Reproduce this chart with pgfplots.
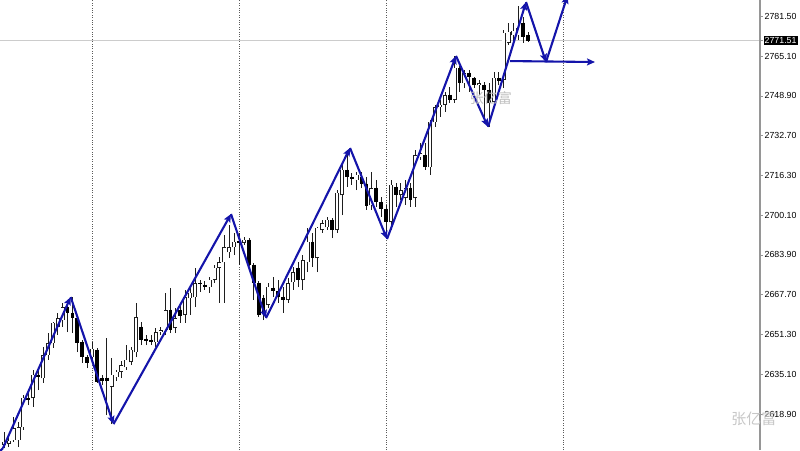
\documentclass[border=0pt]{standalone}
\usepackage{pgfplots}
\pgfplotsset{compat=1.18}
\usepackage{pgfplotstable}
\usepackage{fontspec}
\setmainfont{Liberation Sans}
\newfontfamily\cjk{Noto Sans CJK SC}
\usetikzlibrary{arrows.meta}
\definecolor{zz}{RGB}{20,20,170}
\definecolor{sepc}{RGB}{90,90,90}
\definecolor{spine}{RGB}{150,150,150}
\definecolor{cndl}{RGB}{30,30,30}

\pgfplotstableread{
i o h l c
0 2606.3 2611.6 2605.0 2607.5
1 2606.7 2609.5 2605.4 2607.9
2 2608.3 2617.7 2607.5 2613.2
3 2608.3 2615.7 2605.4 2613.6
4 2613.6 2626.7 2612.4 2625.5
5 2625.5 2628.7 2622.6 2624.6
6 2625.5 2636.9 2621.8 2634.9
7 2634.9 2636.9 2628.7 2634.0
8 2633.6 2646.3 2631.6 2643.0
9 2643.0 2652.0 2641.0 2647.9
10 2647.9 2656.5 2645.9 2656.1
11 2654.5 2660.2 2651.2 2658.1
12 2657.3 2664.3 2654.5 2662.6
13 2662.6 2664.7 2652.4 2660.2
14 2660.2 2666.7 2652.0 2658.1
15 2658.1 2658.5 2644.2 2647.9
16 2648.3 2649.2 2639.8 2642.2
17 2642.2 2643.0 2637.7 2639.8
18 2642.2 2648.3 2640.2 2645.5
19 2645.1 2645.9 2631.6 2632.0
20 2633.6 2634.9 2630.8 2632.4
21 2633.6 2650.0 2618.5 2632.4
22 2630.0 2641.8 2614.8 2634.9
23 2634.0 2636.9 2632.4 2636.1
24 2636.1 2640.6 2633.6 2638.9
25 2638.1 2647.1 2636.9 2641.0
26 2640.2 2646.3 2638.9 2645.1
27 2644.2 2664.3 2642.2 2658.5
28 2654.5 2656.5 2647.1 2649.2
29 2649.6 2651.2 2647.1 2648.7
30 2649.2 2651.2 2647.1 2648.3
31 2648.3 2654.1 2646.3 2652.4
32 2652.4 2654.5 2651.2 2653.2
33 2653.2 2668.4 2651.2 2661.4
34 2661.4 2670.4 2652.0 2653.2
35 2654.1 2662.2 2652.0 2658.1
36 2661.4 2663.5 2656.1 2659.0
37 2659.4 2669.6 2656.1 2666.7
38 2666.3 2670.4 2659.4 2668.4
39 2666.7 2678.6 2662.6 2672.4
40 2672.4 2673.7 2668.8 2672.0
41 2671.6 2673.3 2669.6 2670.8
42 2670.8 2674.9 2668.4 2673.7
43 2673.7 2679.8 2672.4 2678.6
44 2678.6 2683.1 2664.3 2681.0
45 2681.0 2692.0 2664.3 2687.1
46 2685.1 2696.1 2682.7 2687.1
47 2687.1 2692.9 2683.9 2689.2
48 2689.6 2692.9 2679.8 2688.8
49 2688.8 2691.2 2688.0 2690.0
50 2690.0 2690.8 2679.4 2679.8
51 2679.8 2680.6 2665.5 2672.4
52 2672.4 2673.3 2658.5 2659.4
53 2666.3 2667.5 2657.3 2659.8
54 2663.5 2672.4 2662.2 2670.8
55 2670.4 2674.9 2666.7 2669.2
56 2669.2 2673.7 2664.3 2666.7
57 2666.7 2670.8 2660.2 2665.5
58 2665.5 2674.5 2664.3 2672.4
59 2672.8 2679.0 2669.6 2676.9
60 2678.6 2681.0 2670.8 2673.7
61 2673.7 2683.9 2669.6 2681.8
62 2681.0 2694.9 2676.9 2689.2
63 2689.2 2692.9 2679.0 2682.7
64 2682.7 2695.3 2676.9 2694.9
65 2694.1 2698.2 2692.9 2696.9
66 2695.3 2699.4 2694.1 2698.2
67 2698.2 2699.0 2690.8 2694.1
68 2694.1 2710.4 2692.9 2709.2
69 2708.4 2721.5 2700.2 2718.6
70 2718.6 2726.8 2711.7 2715.7
71 2715.7 2717.4 2712.5 2714.9
72 2714.5 2717.8 2710.4 2716.6
73 2715.7 2717.8 2711.2 2712.9
74 2712.9 2715.7 2702.3 2703.9
75 2704.3 2717.8 2702.3 2711.2
76 2711.2 2714.5 2703.5 2705.5
77 2705.5 2707.6 2699.4 2702.7
78 2702.7 2704.3 2690.4 2697.4
79 2697.4 2714.5 2694.1 2712.5
80 2711.7 2713.3 2703.5 2708.4
81 2708.4 2713.3 2706.3 2710.4
82 2707.2 2714.5 2704.3 2711.2
83 2711.2 2713.3 2703.5 2706.3
84 2707.2 2726.8 2703.5 2724.7
85 2723.9 2729.6 2722.7 2725.5
86 2724.7 2729.6 2718.6 2719.8
87 2719.8 2739.0 2716.6 2738.2
88 2738.2 2745.2 2736.2 2744.3
89 2744.3 2747.2 2740.3 2745.2
90 2745.2 2750.5 2742.3 2749.2
91 2749.2 2752.5 2746.0 2747.2
92 2747.2 2765.2 2746.0 2760.3
93 2760.3 2761.1 2750.5 2754.1
94 2754.1 2759.4 2752.1 2758.2
95 2758.2 2759.4 2750.5 2756.6
96 2756.2 2756.6 2752.1 2753.3
97 2753.3 2755.4 2749.2 2754.1
98 2753.3 2754.5 2740.3 2751.3
99 2751.3 2754.1 2736.2 2746.0
100 2746.4 2758.6 2745.2 2756.2
101 2756.2 2758.6 2753.3 2755.0
102 2755.4 2775.8 2752.1 2774.6
103 2770.5 2778.6 2769.7 2775.0
104 2773.7 2778.6 2770.5 2775.4
105 2773.7 2785.6 2771.7 2776.6
106 2778.6 2781.1 2770.5 2772.9
107 2773.7 2775.0 2770.9 2771.51
}\candles

\begin{document}
\begin{tikzpicture}
\begin{axis}[
  width=760pt, height=450pt, scale only axis,
  xmin=0, xmax=760, ymin=2604.22, ymax=2788.04,
  axis line style={draw=none},
  xtick=\empty,
  extra x ticks={92,239,386,563},
  extra x tick labels={},
  extra x tick style={grid=major, major tick length=0pt,
     major grid style={sepc, line width=0.6pt, dash pattern=on 0.8pt off 1.6pt}},
  ytick={2618.9,2635.1,2651.3,2667.7,2683.9,2700.1,2716.3,2732.7,2748.9,2765.1,2781.5},
  yticklabels={2618.90,2635.10,2651.30,2667.70,2683.90,2700.10,2716.30,2732.70,2748.90,2765.10,2781.50},
  ytick pos=right, yticklabel pos=right,
  tick align=outside, major tick length=2.5pt,
  tick style={spine, line width=0.6pt},
  yticklabel style={font=\fontsize{8.8}{10}\selectfont, black, inner sep=1pt, xshift=1pt},
  extra y ticks={2771.51},
  extra y tick labels={2771.51},
  extra y tick style={grid=major, major grid style={black!20, line width=0.9pt},
     yticklabel style={fill=black, text=white, inner sep=1pt, xshift=0pt}},
]
% wicks
\addplot[draw=cndl, line width=0.6pt, quiver={u=0, v=\thisrow{h}-\thisrow{l}}]
  table[x expr=3.8+4.9*\thisrow{i}, y=l] \candles;
% bullish bodies outline
\addplot[draw=cndl, line width=4.0pt, quiver={u=0, v=\thisrow{c}-\thisrow{o}+0.3},
  restrict expr to domain={\thisrow{c}-\thisrow{o}}{0.001:1000}]
  table[x expr=3.8+4.9*\thisrow{i}, y expr=\thisrow{o}-0.15] \candles;
% bullish bodies fill
\addplot[draw=white, line width=2.4pt, quiver={u=0, v=\thisrow{c}-\thisrow{o}-0.4},
  restrict expr to domain={\thisrow{c}-\thisrow{o}}{0.6:1000}]
  table[x expr=3.8+4.9*\thisrow{i}, y expr=\thisrow{o}+0.2] \candles;
% bearish bodies
\addplot[draw=black, line width=3.8pt, quiver={u=0, v=\thisrow{c}-\thisrow{o}-0.3},
  restrict expr to domain={\thisrow{c}-\thisrow{o}}{-1000:0.001}]
  table[x expr=3.8+4.9*\thisrow{i}, y expr=\thisrow{o}+0.15] \candles;
% zigzag
\pgfplotsset{zzs/.style={zz, line width=2.1pt, -{Stealth[length=8pt,width=7pt,inset=1.5pt]}}}
\addplot[zz, line width=2.1pt] coordinates {(-2,2603.0) (3,2605.0)};
\addplot[zzs] coordinates {(3,2605.0) (70.7,2666.7)};
\addplot[zzs] coordinates {(70.7,2666.7) (113.5,2614.8)};
\addplot[zzs] coordinates {(113.5,2614.8) (231,2700.6)};
\addplot[zzs] coordinates {(231,2700.6) (266,2658.1)};
\addplot[zzs] coordinates {(266,2658.1) (350,2727.6)};
\addplot[zzs] coordinates {(350,2727.6) (387,2690.4)};
\addplot[zzs] coordinates {(387,2690.4) (456,2765.2)};
\addplot[zzs] coordinates {(456,2765.2) (488,2736.2)};
\addplot[zzs] coordinates {(488,2736.2) (526,2787.2)};
\addplot[zzs] coordinates {(526,2787.2) (546,2762.7)};
\addplot[zzs] coordinates {(546,2762.7) (567.5,2789.8)};
\addplot[zzs] coordinates {(510,2763.1) (595,2762.7)};
\coordinate (sw) at (rel axis cs:0,0);
\coordinate (se) at (rel axis cs:1,0);
\coordinate (ne) at (rel axis cs:1,1);
\coordinate (wm1) at (rel axis cs:0.646,0.782);
\coordinate (wm2) at (rel axis cs:0.992,0.069);
\end{axis}
\draw[spine, line width=1.4pt] (se) -- (ne);
\node[text=black!25, font=\cjk\fontsize{14}{16}\selectfont, inner sep=0pt] at (wm1) {张亿富};
\node[text=black!22, font=\cjk\fontsize{15}{17}\selectfont, inner sep=0pt] at (wm2) {张亿富};
\pgfresetboundingbox
\path (sw) rectangle ++(800pt,450pt);
\end{tikzpicture}
\end{document}
